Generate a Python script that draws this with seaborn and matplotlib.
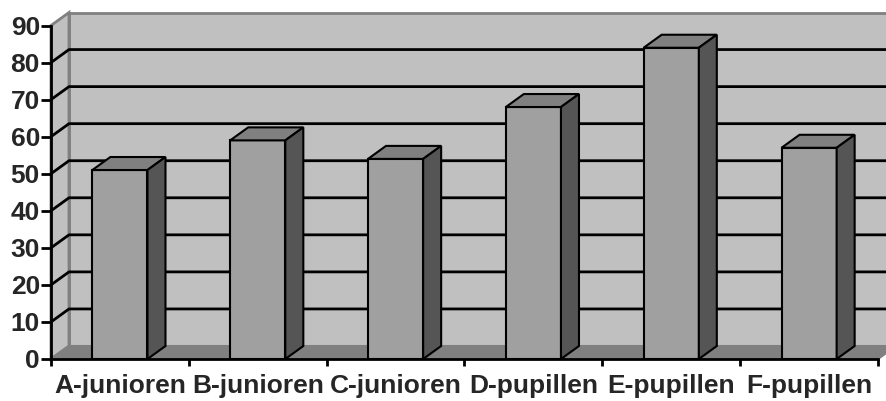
import numpy as np
import pandas as pd
import matplotlib
matplotlib.use('Agg')
import matplotlib.pyplot as plt
from matplotlib.patches import Polygon
import seaborn as sns

# data
categories = ['A-junioren', 'B-junioren', 'C-junioren', 'D-pupillen', 'E-pupillen', 'F-pupillen']
values = [51, 59, 54, 68, 84, 57]
yticks = list(range(0, 100, 10))

df = pd.DataFrame({'team': categories, 'count': values})

sns.set_style('white')
plt.rcParams['font.family'] = ['Liberation Sans', 'DejaVu Sans']

fig = plt.figure(figsize=(8.87, 4.01), dpi=100)
ax = fig.add_axes([51 / 887, 42 / 401, 827 / 887, 333.5 / 401])
ax.set_facecolor('none')

sns.barplot(data=df, x='team', y='count', color='#A0A0A0', saturation=1,
            width=0.4, edgecolor='black', linewidth=1.5, ax=ax, zorder=5)
bars = list(ax.patches)

ax.set_xlim(-0.5, len(categories) - 0.5)
ax.set_ylim(0, 90)

# fake 3D depth (pixels converted to data units)
dx = 18 / (827 / len(categories))
dy = 13 / (333.5 / 90)
x_lo, x_hi = -0.5, len(categories) - 0.5
y_top = yticks[-1]

# back wall, left wall, floor
ax.add_patch(Polygon([(x_lo + dx, dy), (x_hi + dx, dy), (x_hi + dx, y_top + dy), (x_lo + dx, y_top + dy)],
                     fc='#C0C0C0', ec='#808080', lw=2, clip_on=False, zorder=0))
ax.add_patch(Polygon([(x_lo, 0), (x_lo + dx, dy), (x_lo + dx, y_top + dy), (x_lo, y_top)],
                     fc='#C0C0C0', ec='#808080', lw=2, clip_on=False, zorder=0))
ax.add_patch(Polygon([(x_lo, 0), (x_hi, 0), (x_hi + dx, dy), (x_lo + dx, dy)],
                     fc='#808080', ec='#808080', lw=1.5, clip_on=False, zorder=1))

# gridlines on the walls
for y in yticks[1:-1]:
    ax.plot([x_lo, x_lo + dx, x_hi + dx], [y, y + dy, y + dy], color='black', lw=2,
            clip_on=False, zorder=0.5, solid_capstyle='butt')

# top and side faces of the bars
for p in bars:
    x0, w, h = p.get_x(), p.get_width(), p.get_height()
    ax.add_patch(Polygon([(x0, h), (x0 + w, h), (x0 + w + dx, h + dy), (x0 + dx, h + dy)],
                         fc='#808080', ec='black', lw=1.5, clip_on=False, zorder=5))
    ax.add_patch(Polygon([(x0 + w, 0), (x0 + w + dx, dy), (x0 + w + dx, h + dy), (x0 + w, h)],
                         fc='#555555', ec='black', lw=1.5, clip_on=False, zorder=5))

# axes
for s in ['top', 'right']:
    ax.spines[s].set_visible(False)
for s in ['left', 'bottom']:
    ax.spines[s].set_color('black')
    ax.spines[s].set_linewidth(2)
    ax.spines[s].set_zorder(10)

ax.set_yticks(yticks)
ax.set_yticklabels([str(t) for t in yticks], fontsize=19, fontweight='bold')
ax.set_xticks(range(len(categories)))
ax.set_xticklabels(categories, fontsize=19, fontweight='bold')
ax.set_xticks(np.arange(x_lo, x_hi + 0.01, 1), minor=True)
ax.tick_params(axis='y', left=True, length=7, width=2, color='black', pad=1)
ax.tick_params(axis='x', which='major', bottom=True, length=0, pad=11)
ax.tick_params(axis='x', which='minor', bottom=True, length=5, width=2, color='black')
ax.set_xlabel('')
ax.set_ylabel('')

fig.savefig('out.png', dpi=100)
